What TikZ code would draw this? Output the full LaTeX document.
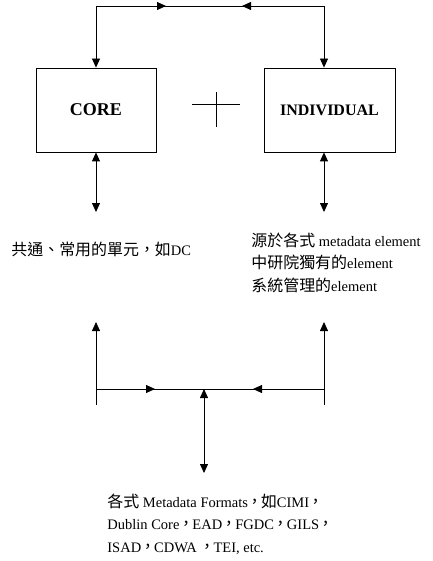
\documentclass[tikz,border=0pt]{standalone}
\usepackage{fontspec}
\setmainfont{Liberation Serif}
\newfontfamily\cjk[Scale=1.1]{Noto Sans CJK TC}
\newcommand{\cm}{\makebox[13pt]{\cjk ，}}
\usetikzlibrary{arrows.meta}
\begin{document}
\begin{tikzpicture}[x=1pt,y=-1pt,line width=0.8pt,
  box/.style={draw,minimum height=84pt,inner sep=0pt,font=\fontsize{16}{16}\selectfont\bfseries},
  tip/.style={-{Triangle[length=9pt,width=8pt]}},
  both/.style={{Triangle[length=9pt,width=8pt]}-{Triangle[length=9pt,width=8pt]}},
  txt/.style={anchor=base west,align=left,inner sep=0pt,font=\fontsize{14.5}{22.5}\selectfont}]
\useasboundingbox (0,0) rectangle (432,561);
% boxes
\node[box,minimum width=120pt,font=\fontsize{18}{18}\selectfont\bfseries] (core) at (96,110) {CORE};
\node[box,minimum width=131pt] (indiv) at (329.5,110) {INDIVIDUAL};
% plus sign
\coordinate (plus) at (216,104);
\draw ([xshift=-24pt]plus) -- ([xshift=24pt]plus);
\draw ([yshift=12pt]plus) -- ([yshift=-23pt]plus);
% top connector
\coordinate (tl) at (96,6);
\coordinate (tr) at (324,6);
\coordinate (tml) at (166,6);
\coordinate (tmr) at (242,6);
\draw[both] (core.north) -- (tl) -- (tr) -- (tr |- indiv.north);
\draw[tip] (tl) -- (tml);
\draw[tip] (tr) -- (tmr);
% texts (base anchor = baseline of the last line)
\node[txt] (dc) at (11,255) {{\cjk 共通、常用的單元，如}DC};
\node[txt] (ind) at (251,291) {{\cjk 源於各式} metadata element\\{\cjk 中研院獨有的}element\\{\cjk 系統管理的}element};
\node[txt] (fmt) at (107,552) {{\cjk 各式} Metadata Formats\cm{\cjk 如}CIMI\cm\\Dublin Core\cm EAD\cm FGDC\cm GILS\cm\\ISAD\cm CDWA \cm TEI, etc.};
% links between boxes and texts
\coordinate (cd) at (96,212);
\coordinate (id) at (324,212);
\draw[both] (core.south) -- (cd);
\draw[both] (tr |- indiv.south) -- (id);
% bottom connector
\coordinate (blt) at (96,322);
\coordinate (blb) at (96,405);
\coordinate (brt) at (324,322);
\coordinate (brb) at (324,405);
\coordinate (bl) at (96,389);
\coordinate (br) at (324,389);
\coordinate (bml) at (155,389);
\coordinate (bmr) at (253,389);
\coordinate (bm) at (204,389);
\coordinate (bd) at (204,473);
\draw[tip] (blb) -- (blt);
\draw[tip] (brb) -- (brt);
\draw (bl) -- (br);
\draw[tip] (bl) -- (bml);
\draw[tip] (br) -- (bmr);
\draw[both] (bm) -- (bd);
\end{tikzpicture}
\end{document}
